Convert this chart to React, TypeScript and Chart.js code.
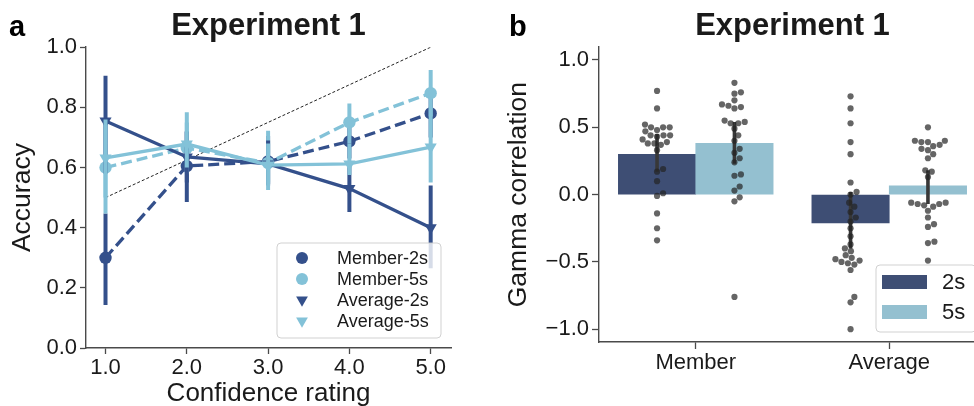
import React, { useEffect, useRef } from 'react';
import { Chart, registerables } from 'chart.js';

Chart.register(...registerables);

const FONT = '"Liberation Sans", Arial, Helvetica, sans-serif';
Chart.defaults.font.family = FONT;

// ---------- Panel a data ----------
const panelATitle = 'Experiment 1';
const confidenceLevels = [1, 2, 3, 4, 5];
const accuracyTicks = [0, 0.2, 0.4, 0.6, 0.8, 1.0];
const seriesNamesA = ['Member-2s', 'Member-5s', 'Average-2s', 'Average-5s'];
const member2sAcc = [0.30, 0.605, 0.62, 0.687, 0.78];
const member5sAcc = [0.60, 0.665, 0.615, 0.75, 0.847];
const average2sAcc = [0.755, 0.635, 0.612, 0.53, 0.40];
const average5sAcc = [0.632, 0.678, 0.608, 0.612, 0.668];
const member2sLo = [0.143, 0.485, 0.54, 0.63, 0.70];
const member2sHi = [0.447, 0.72, 0.705, 0.75, 0.86];
const member5sLo = [0.447, 0.58, 0.55, 0.68, 0.77];
const member5sHi = [0.75, 0.784, 0.722, 0.813, 0.924];
const average2sLo = [0.58, 0.55, 0.545, 0.452, 0.265];
const average2sHi = [0.905, 0.72, 0.69, 0.61, 0.54];
const average5sLo = [0.50, 0.60, 0.525, 0.575, 0.55];
const average5sHi = [0.76, 0.75, 0.68, 0.68, 0.80];
const diagonalX = [1, 5];
const diagonalY = [0.5, 1.0];

// ---------- Panel b data ----------
const panelBTitle = 'Experiment 1';
const groupLabels = ['Member', 'Average'];
const durationLabels = ['2s', '5s'];
const gammaTicks = [-1.0, -0.5, 0.0, 0.5, 1.0];
const gamma2s = [0.30, -0.21];
const gamma5s = [0.38, 0.065];
const gamma2sLo = [0.17, -0.40];
const gamma2sHi = [0.45, 0.02];
const gamma5sLo = [0.23, -0.07];
const gamma5sHi = [0.54, 0.18];
const member2sGamma = [0.77, 0.64, 0.52, 0.50, 0.50, 0.50, 0.48, 0.47, 0.44, 0.44, 0.44, 0.43, 0.41, 0.39, 0.38, 0.38, 0.37, 0.33, 0.19, 0.17, 0.10, 0.01, -0.01, -0.14, -0.25, -0.34];
const member5sGamma = [0.83, 0.76, 0.75, 0.70, 0.67, 0.66, 0.65, 0.64, 0.55, 0.54, 0.53, 0.53, 0.49, 0.44, 0.40, 0.34, 0.31, 0.27, 0.24, 0.15, 0.14, 0.06, 0.03, -0.02, -0.05, -0.76];
const average2sGamma = [0.73, 0.64, 0.53, 0.39, 0.30, 0.09, 0.02, 0.00, -0.06, -0.09, -0.13, -0.17, -0.20, -0.25, -0.31, -0.37, -0.40, -0.42, -0.45, -0.47, -0.48, -0.49, -0.50, -0.51, -0.52, -0.56, -0.76, -0.80, -1.00];
const average5sGamma = [0.50, 0.40, 0.40, 0.39, 0.39, 0.37, 0.36, 0.34, 0.33, 0.30, 0.27, 0.18, 0.17, 0.13, -0.06, -0.06, -0.07, -0.07, -0.08, -0.09, -0.12, -0.17, -0.22, -0.24, -0.35, -0.36, -0.49];

// ---------- styles ----------
const DARK_LINE = '#34508b';
const LIGHT_LINE = '#83c2d8';
const DARK_BAR = '#3e4e74';
const LIGHT_BAR = '#94c0d0';
const TEXT = '#1a1a1a';
const AXIS = '#4a4a4a';
const POINT = 'rgba(35,35,35,0.7)';
const ERR = '#383838';

const fmt1 = (v: number) => (v < 0 ? '\u2212' + Math.abs(v).toFixed(1) : Math.abs(v).toFixed(1));

function errSegments(xs: number[], lo: number[], hi: number[]) {
  const pts: { x: number; y: number | null }[] = [];
  xs.forEach((x, i) => {
    pts.push({ x, y: lo[i] }, { x, y: hi[i] }, { x, y: null });
  });
  return pts;
}

function swarmOffsets(values: number[], toPxY: (v: number) => number, d: number): number[] {
  const order = values.map((_, i) => i).sort((a, b) => values[a] - values[b]);
  const placed: { x: number; y: number }[] = [];
  const out = new Array(values.length).fill(0);
  for (const i of order) {
    const y = toPxY(values[i]);
    const cands = [0];
    for (const p of placed) {
      const dy = y - p.y;
      if (Math.abs(dy) < d) {
        const dx = Math.sqrt(d * d - dy * dy);
        cands.push(p.x + dx, p.x - dx);
      }
    }
    cands.sort((a, b) => Math.abs(a) - Math.abs(b));
    let chosen = 0;
    for (const c of cands) {
      if (placed.every((p) => (c - p.x) ** 2 + (y - p.y) ** 2 >= d * d - 0.01)) {
        chosen = c;
        break;
      }
    }
    placed.push({ x: chosen, y });
    out[i] = chosen;
  }
  return out;
}

function drawBox(ctx: CanvasRenderingContext2D, x: number, y: number, w: number, h: number) {
  ctx.save();
  ctx.beginPath();
  if ((ctx as any).roundRect) (ctx as any).roundRect(x, y, w, h, 4);
  else ctx.rect(x, y, w, h);
  ctx.fillStyle = 'rgba(255,255,255,0.8)';
  ctx.fill();
  ctx.strokeStyle = 'rgba(204,204,204,0.9)';
  ctx.lineWidth = 1;
  ctx.stroke();
  ctx.restore();
}

const seriesStyleA = [
  { color: DARK_LINE, marker: 'circle', dash: [11, 5] },
  { color: LIGHT_LINE, marker: 'circle', dash: [11, 5] },
  { color: DARK_LINE, marker: 'triangle', dash: [] as number[] },
  { color: LIGHT_LINE, marker: 'triangle', dash: [] as number[] },
];

const legendAPlugin = {
  id: 'legendA',
  afterDraw(chart: any) {
    const { ctx, chartArea } = chart;
    const w = 164, h = 95;
    const left = chartArea.right - 10 - w;
    const top = chartArea.bottom - 10 - h;
    drawBox(ctx, left, top, w, h);
    ctx.save();
    seriesNamesA.forEach((name, i) => {
      const cy = top + 15 + 21 * i;
      const cx = left + 25;
      const st = seriesStyleA[i];
      ctx.fillStyle = st.color;
      ctx.beginPath();
      if (st.marker === 'circle') {
        ctx.arc(cx, cy, 6, 0, Math.PI * 2);
      } else {
        const r = 6.8;
        ctx.moveTo(cx, cy + r);
        ctx.lineTo(cx - r * Math.sin(Math.PI / 3), cy - r / 2);
        ctx.lineTo(cx + r * Math.sin(Math.PI / 3), cy - r / 2);
        ctx.closePath();
      }
      ctx.fill();
      ctx.fillStyle = TEXT;
      ctx.font = `18px ${FONT}`;
      ctx.textBaseline = 'middle';
      ctx.textAlign = 'left';
      ctx.fillText(name, left + 60, cy + 1);
    });
    ctx.restore();
  },
};

const legendBPlugin = {
  id: 'legendB',
  afterDraw(chart: any) {
    const { ctx, chartArea } = chart;
    const w = 100, h = 67;
    const left = chartArea.right - 10 - w;
    const top = chartArea.bottom - 10 - h;
    drawBox(ctx, left, top, w, h);
    ctx.save();
    durationLabels.forEach((name, i) => {
      const cy = top + 17 + 30 * i;
      ctx.fillStyle = i === 0 ? DARK_BAR : LIGHT_BAR;
      ctx.fillRect(left + 6, cy - 7, 45, 14);
      ctx.fillStyle = TEXT;
      ctx.font = `22px ${FONT}`;
      ctx.textBaseline = 'middle';
      ctx.textAlign = 'left';
      ctx.fillText(name, left + 66, cy + 1);
    });
    ctx.restore();
  },
};

const commonTitle = (text: string) => ({
  display: true,
  text,
  color: TEXT,
  font: { size: 31, weight: 'bold' as const, family: FONT },
  padding: { top: 8, bottom: 2 },
  fullSize: false,
});

const axisGrid = (len: number) => ({
  display: true,
  drawOnChartArea: false,
  drawTicks: true,
  tickLength: len,
  tickColor: AXIS,
  tickWidth: 1.3,
  offset: false,
});

const axisBorder = { display: true, color: AXIS, width: 1.4 };

function PanelA() {
  const ref = useRef<HTMLCanvasElement | null>(null);
  useEffect(() => {
    if (!ref.current) return;
    const accs = [member2sAcc, member5sAcc, average2sAcc, average5sAcc];
    const los = [member2sLo, member5sLo, average2sLo, average5sLo];
    const his = [member2sHi, member5sHi, average2sHi, average5sHi];
    const datasets: any[] = [
      {
        label: 'diagonal',
        data: diagonalX.map((x, i) => ({ x, y: diagonalY[i] })),
        borderColor: '#222',
        borderWidth: 1,
        borderDash: [3, 2],
        pointRadius: 0,
        fill: false,
      },
    ];
    seriesNamesA.forEach((name, s) => {
      const st = seriesStyleA[s];
      datasets.push({
        label: name + ' CI',
        data: errSegments(confidenceLevels, los[s], his[s]),
        borderColor: st.color,
        borderWidth: 4,
        pointRadius: 0,
        spanGaps: false,
        fill: false,
      });
      datasets.push({
        label: name,
        data: confidenceLevels.map((x, i) => ({ x, y: accs[s][i] })),
        borderColor: st.color,
        backgroundColor: st.color,
        borderWidth: 3.3,
        borderDash: st.dash,
        pointStyle: st.marker,
        pointRotation: st.marker === 'triangle' ? 180 : 0,
        pointRadius: st.marker === 'triangle' ? 7 : 6.2,
        pointBackgroundColor: st.color,
        pointBorderColor: st.color,
        pointBorderWidth: 0,
        fill: false,
      });
    });
    datasets.forEach((d, i) => (d.order = 100 - i));

    const chart = new Chart(ref.current, {
      type: 'line',
      data: { datasets },
      options: {
        animation: false,
        responsive: false,
        devicePixelRatio: 1,
        layout: { padding: { left: 0, right: 29, top: 0, bottom: 0 } },
        plugins: {
          legend: { display: false },
          tooltip: { enabled: false },
          title: commonTitle(panelATitle),
        },
        scales: {
          x: {
            type: 'linear',
            min: 0.76,
            max: 5.25,
            offset: false,
            afterBuildTicks: (s: any) => {
              s.ticks = confidenceLevels.map((v) => ({ value: v }));
            },
            ticks: {
              callback: (v: any) => Number(v).toFixed(1),
              color: TEXT,
              font: { size: 22 },
              padding: 1,
              maxRotation: 0,
              autoSkip: false,
            },
            grid: axisGrid(6),
            border: axisBorder,
            title: {
              display: true,
              text: 'Confidence rating',
              color: TEXT,
              font: { size: 26 },
              padding: { top: 0, bottom: -3 },
            },
            afterFit: (s: any) => {
              s.height = 58;
            },
          },
          y: {
            type: 'linear',
            min: 0,
            max: 1,
            afterBuildTicks: (s: any) => {
              s.ticks = accuracyTicks.map((v) => ({ value: v }));
            },
            ticks: {
              callback: (v: any) => Number(v).toFixed(1),
              color: TEXT,
              font: { size: 22 },
              padding: 3,
              autoSkip: false,
            },
            grid: axisGrid(6),
            border: axisBorder,
            title: {
              display: true,
              text: 'Accuracy',
              color: TEXT,
              font: { size: 26.5 },
              padding: { top: 7, bottom: 0 },
            },
            afterFit: (s: any) => {
              s.width = 86;
            },
          },
        },
      },
      plugins: [legendAPlugin],
    } as any);
    return () => chart.destroy();
  }, []);
  return <canvas ref={ref} width={480} height={406} style={{ position: 'absolute', left: 0, top: 0 }} />;
}

function PanelB() {
  const ref = useRef<HTMLCanvasElement | null>(null);
  useEffect(() => {
    if (!ref.current) return;
    const hueWidth = 0.4;
    const hueOffset = (h: number) => (h - 0.5) * hueWidth;
    const centers2s = groupLabels.map((_, g) => g + hueOffset(0));
    const centers5s = groupLabels.map((_, g) => g + hueOffset(1));
    const strips = [
      { values: member2sGamma, center: centers2s[0] },
      { values: member5sGamma, center: centers5s[0] },
      { values: average2sGamma, center: centers2s[1] },
      { values: average5sGamma, center: centers5s[1] },
    ];
    const datasets: any[] = [
      {
        type: 'bar',
        label: durationLabels[0],
        data: centers2s.map((x, i) => ({ x, y: gamma2s[i] })),
        backgroundColor: DARK_BAR,
        borderWidth: 0,
        grouped: false,
        categoryPercentage: 1,
        barPercentage: 1,
        order: 10,
      },
      {
        type: 'bar',
        label: durationLabels[1],
        data: centers5s.map((x, i) => ({ x, y: gamma5s[i] })),
        backgroundColor: LIGHT_BAR,
        borderWidth: 0,
        grouped: false,
        categoryPercentage: 1,
        barPercentage: 1,
        order: 9,
      },
      {
        type: 'line',
        label: 'CI',
        data: [
          ...errSegments(centers2s, gamma2sLo, gamma2sHi),
          ...errSegments(centers5s, gamma5sLo, gamma5sHi),
        ],
        borderColor: ERR,
        borderWidth: 3.6,
        pointRadius: 0,
        spanGaps: false,
        fill: false,
        order: 8,
      },
      ...strips.map((s, i) => ({
        type: 'scatter',
        label: 'points' + i,
        data: s.values.map((v) => ({ x: s.center, y: v })),
        pointRadius: 3.1,
        pointBackgroundColor: POINT,
        pointBorderWidth: 0,
        showLine: false,
        order: 5 - i,
      })),
    ];

    const chart = new Chart(ref.current, {
      type: 'bar',
      data: { datasets },
      options: {
        animation: false,
        responsive: false,
        devicePixelRatio: 1,
        layout: { padding: { left: 0, right: 14, top: 0, bottom: 0 } },
        plugins: {
          legend: { display: false },
          tooltip: { enabled: false },
          title: commonTitle(panelBTitle),
        },
        scales: {
          x: {
            type: 'linear',
            min: -0.5,
            max: 1.5,
            offset: false,
            afterBuildTicks: (s: any) => {
              s.ticks = groupLabels.map((_, i) => ({ value: i }));
            },
            ticks: {
              callback: (v: any) => groupLabels[Math.round(Number(v))],
              color: TEXT,
              font: { size: 22 },
              padding: 1,
              maxRotation: 0,
              autoSkip: false,
            },
            grid: axisGrid(7),
            border: axisBorder,
            afterFit: (s: any) => {
              s.height = 64;
            },
          },
          y: {
            type: 'linear',
            min: -1.095,
            max: 1.095,
            afterBuildTicks: (s: any) => {
              s.ticks = gammaTicks.map((v) => ({ value: v }));
            },
            ticks: {
              callback: (v: any) => fmt1(Number(v)),
              color: TEXT,
              font: { size: 22 },
              padding: 3,
              autoSkip: false,
            },
            grid: axisGrid(7),
            border: axisBorder,
            title: {
              display: true,
              text: 'Gamma correlation',
              color: TEXT,
              font: { size: 26.5 },
              padding: { top: 23, bottom: 0 },
            },
            afterFit: (s: any) => {
              s.width = 119;
            },
          },
        },
      },
      plugins: [legendBPlugin],
    } as any);

    // bar width and beeswarm layout, computed from the chart's own scales
    const ys = chart.scales.y as any;
    const xs = chart.scales.x as any;
    const pxPerX = xs.getPixelForValue(1) - xs.getPixelForValue(0);
    (chart.data.datasets[0] as any).barThickness = pxPerX * hueWidth;
    (chart.data.datasets[1] as any).barThickness = pxPerX * hueWidth;
    strips.forEach((s, i) => {
      const offs = swarmOffsets(s.values, (v) => ys.getPixelForValue(v), 6.6);
      (chart.data.datasets[3 + i] as any).data = s.values.map((v, k) => ({ x: s.center + offs[k] / pxPerX, y: v }));
    });
    chart.update();
    return () => chart.destroy();
  }, []);
  return <canvas ref={ref} width={520} height={406} style={{ position: 'absolute', left: 480, top: 0 }} />;
}

const letterStyle: React.CSSProperties = {
  position: 'absolute',
  fontFamily: FONT,
  fontWeight: 'bold',
  fontSize: 29,
  lineHeight: '29px',
  color: '#000',
  top: 12,
};

export default function App() {
  return (
    <div
      style={{
        position: 'absolute',
        left: 0,
        top: 0,
        width: 974,
        height: 406,
        overflow: 'hidden',
        background: '#fff',
      }}
    >
      <PanelA />
      <PanelB />
      <div style={{ ...letterStyle, left: 9 }}>a</div>
      <div style={{ ...letterStyle, left: 509 }}>b</div>
    </div>
  );
}
